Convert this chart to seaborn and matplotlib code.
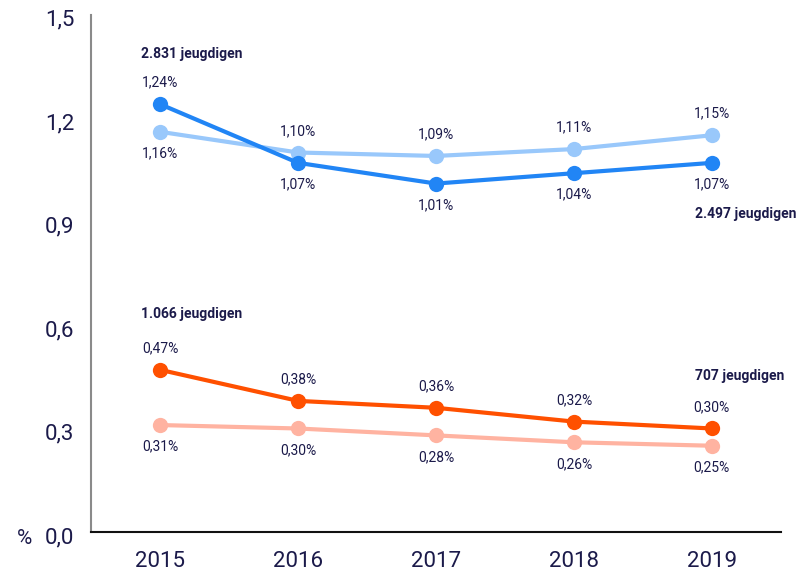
import matplotlib
matplotlib.use("Agg")
import matplotlib.pyplot as plt
import matplotlib.transforms as mtransforms
import seaborn as sns
import pandas as pd

years = [2015, 2016, 2017, 2018, 2019]
blue_dark = [1.24, 1.07, 1.01, 1.04, 1.07]
blue_light = [1.16, 1.10, 1.09, 1.11, 1.15]
orange_dark = [0.47, 0.38, 0.36, 0.32, 0.30]
orange_light = [0.31, 0.30, 0.28, 0.26, 0.25]
series_names = ["blauw_donker", "blauw_licht", "oranje_donker", "oranje_licht"]
yticks = [0.0, 0.3, 0.6, 0.9, 1.2, 1.5]

colors = {"blauw_donker": "#2185F5", "blauw_licht": "#99C8FB",
          "oranje_donker": "#FF5000", "oranje_licht": "#FFB3A1"}
text_color = "#1B1A4A"

sns.set_theme(style="white")
plt.rcParams["font.family"] = ["Roboto", "DejaVu Sans"]

rows = []
for name, vals in zip(series_names, [blue_dark, blue_light, orange_dark, orange_light]):
    for i, (y, v) in enumerate(zip(years, vals)):
        rows.append({"pos": i, "jaar": y, "waarde": v, "reeks": name})
df = pd.DataFrame(rows)

fig = plt.figure(figsize=(8, 5.74), dpi=100)
ax = fig.add_axes([0.114, 0.0732, 0.862, 0.9015])

order = ["blauw_licht", "blauw_donker", "oranje_licht", "oranje_donker"]
sns.lineplot(data=df, x="pos", y="waarde", hue="reeks", hue_order=order,
             palette=colors, marker="o", markersize=11, markeredgewidth=0,
             linewidth=3, legend=False, ax=ax)

def fmt(v):
    return f"{v:.2f}".replace(".", ",") + "%"

placements = {
    "blauw_donker": [1, -1, -1, -1, -1],
    "blauw_licht": [-1, 1, 1, 1, 1],
    "oranje_donker": [1, 1, 1, 1, 1],
    "oranje_licht": [-1, -1, -1, -1, -1],
}
series_vals = dict(zip(series_names, [blue_dark, blue_light, orange_dark, orange_light]))
for name in series_names:
    for i, v in enumerate(series_vals[name]):
        d = placements[name][i]
        ax.annotate(fmt(v), (i, v), xytext=(0, 15.5 * d), textcoords="offset points",
                    ha="center", va="center", fontsize=10, color=text_color)

ax.annotate("2.831 jeugdigen", (0, blue_dark[0]), xytext=(-14, 36), textcoords="offset points",
            ha="left", va="center", fontsize=10, fontweight="bold", color=text_color)
ax.annotate("2.497 jeugdigen", (4, blue_dark[4]), xytext=(61, -37), textcoords="offset points",
            ha="right", va="center", fontsize=10, fontweight="bold", color=text_color)
ax.annotate("1.066 jeugdigen", (0, orange_dark[0]), xytext=(-14, 40), textcoords="offset points",
            ha="left", va="center", fontsize=10, fontweight="bold", color=text_color)
ax.annotate("707 jeugdigen", (4, orange_dark[4]), xytext=(-12, 38), textcoords="offset points",
            ha="left", va="center", fontsize=10, fontweight="bold", color=text_color)

ax.set_xlim(-0.5, 4.5)
ax.set_ylim(0, 1.5)
ax.set_xticks(range(len(years)))
ax.set_xticklabels([str(y) for y in years])
ax.set_yticks(yticks)
ax.set_yticklabels([f"{t:.1f}".replace(".", ",") for t in yticks])
ax.tick_params(axis="y", length=0, pad=12, labelsize=16, labelcolor=text_color)
ax.tick_params(axis="x", length=0, pad=14, labelsize=16, labelcolor=text_color)
shift = mtransforms.ScaledTranslation(0, -3 / 100, fig.dpi_scale_trans)
for lbl in ax.get_yticklabels():
    lbl.set_transform(lbl.get_transform() + shift)
ax.set_xlabel("")
ax.set_ylabel("")
for s in ["top", "right"]:
    ax.spines[s].set_visible(False)
ax.spines["left"].set_color("#8A8A8A")
ax.spines["left"].set_linewidth(1.5)
ax.spines["bottom"].set_color("#111111")
ax.spines["bottom"].set_linewidth(1.5)

fig.text(25 / 800, 1 - 538 / 574, "%", ha="center", va="center", fontsize=15, color=text_color)

fig.savefig("out.png", dpi=100)
